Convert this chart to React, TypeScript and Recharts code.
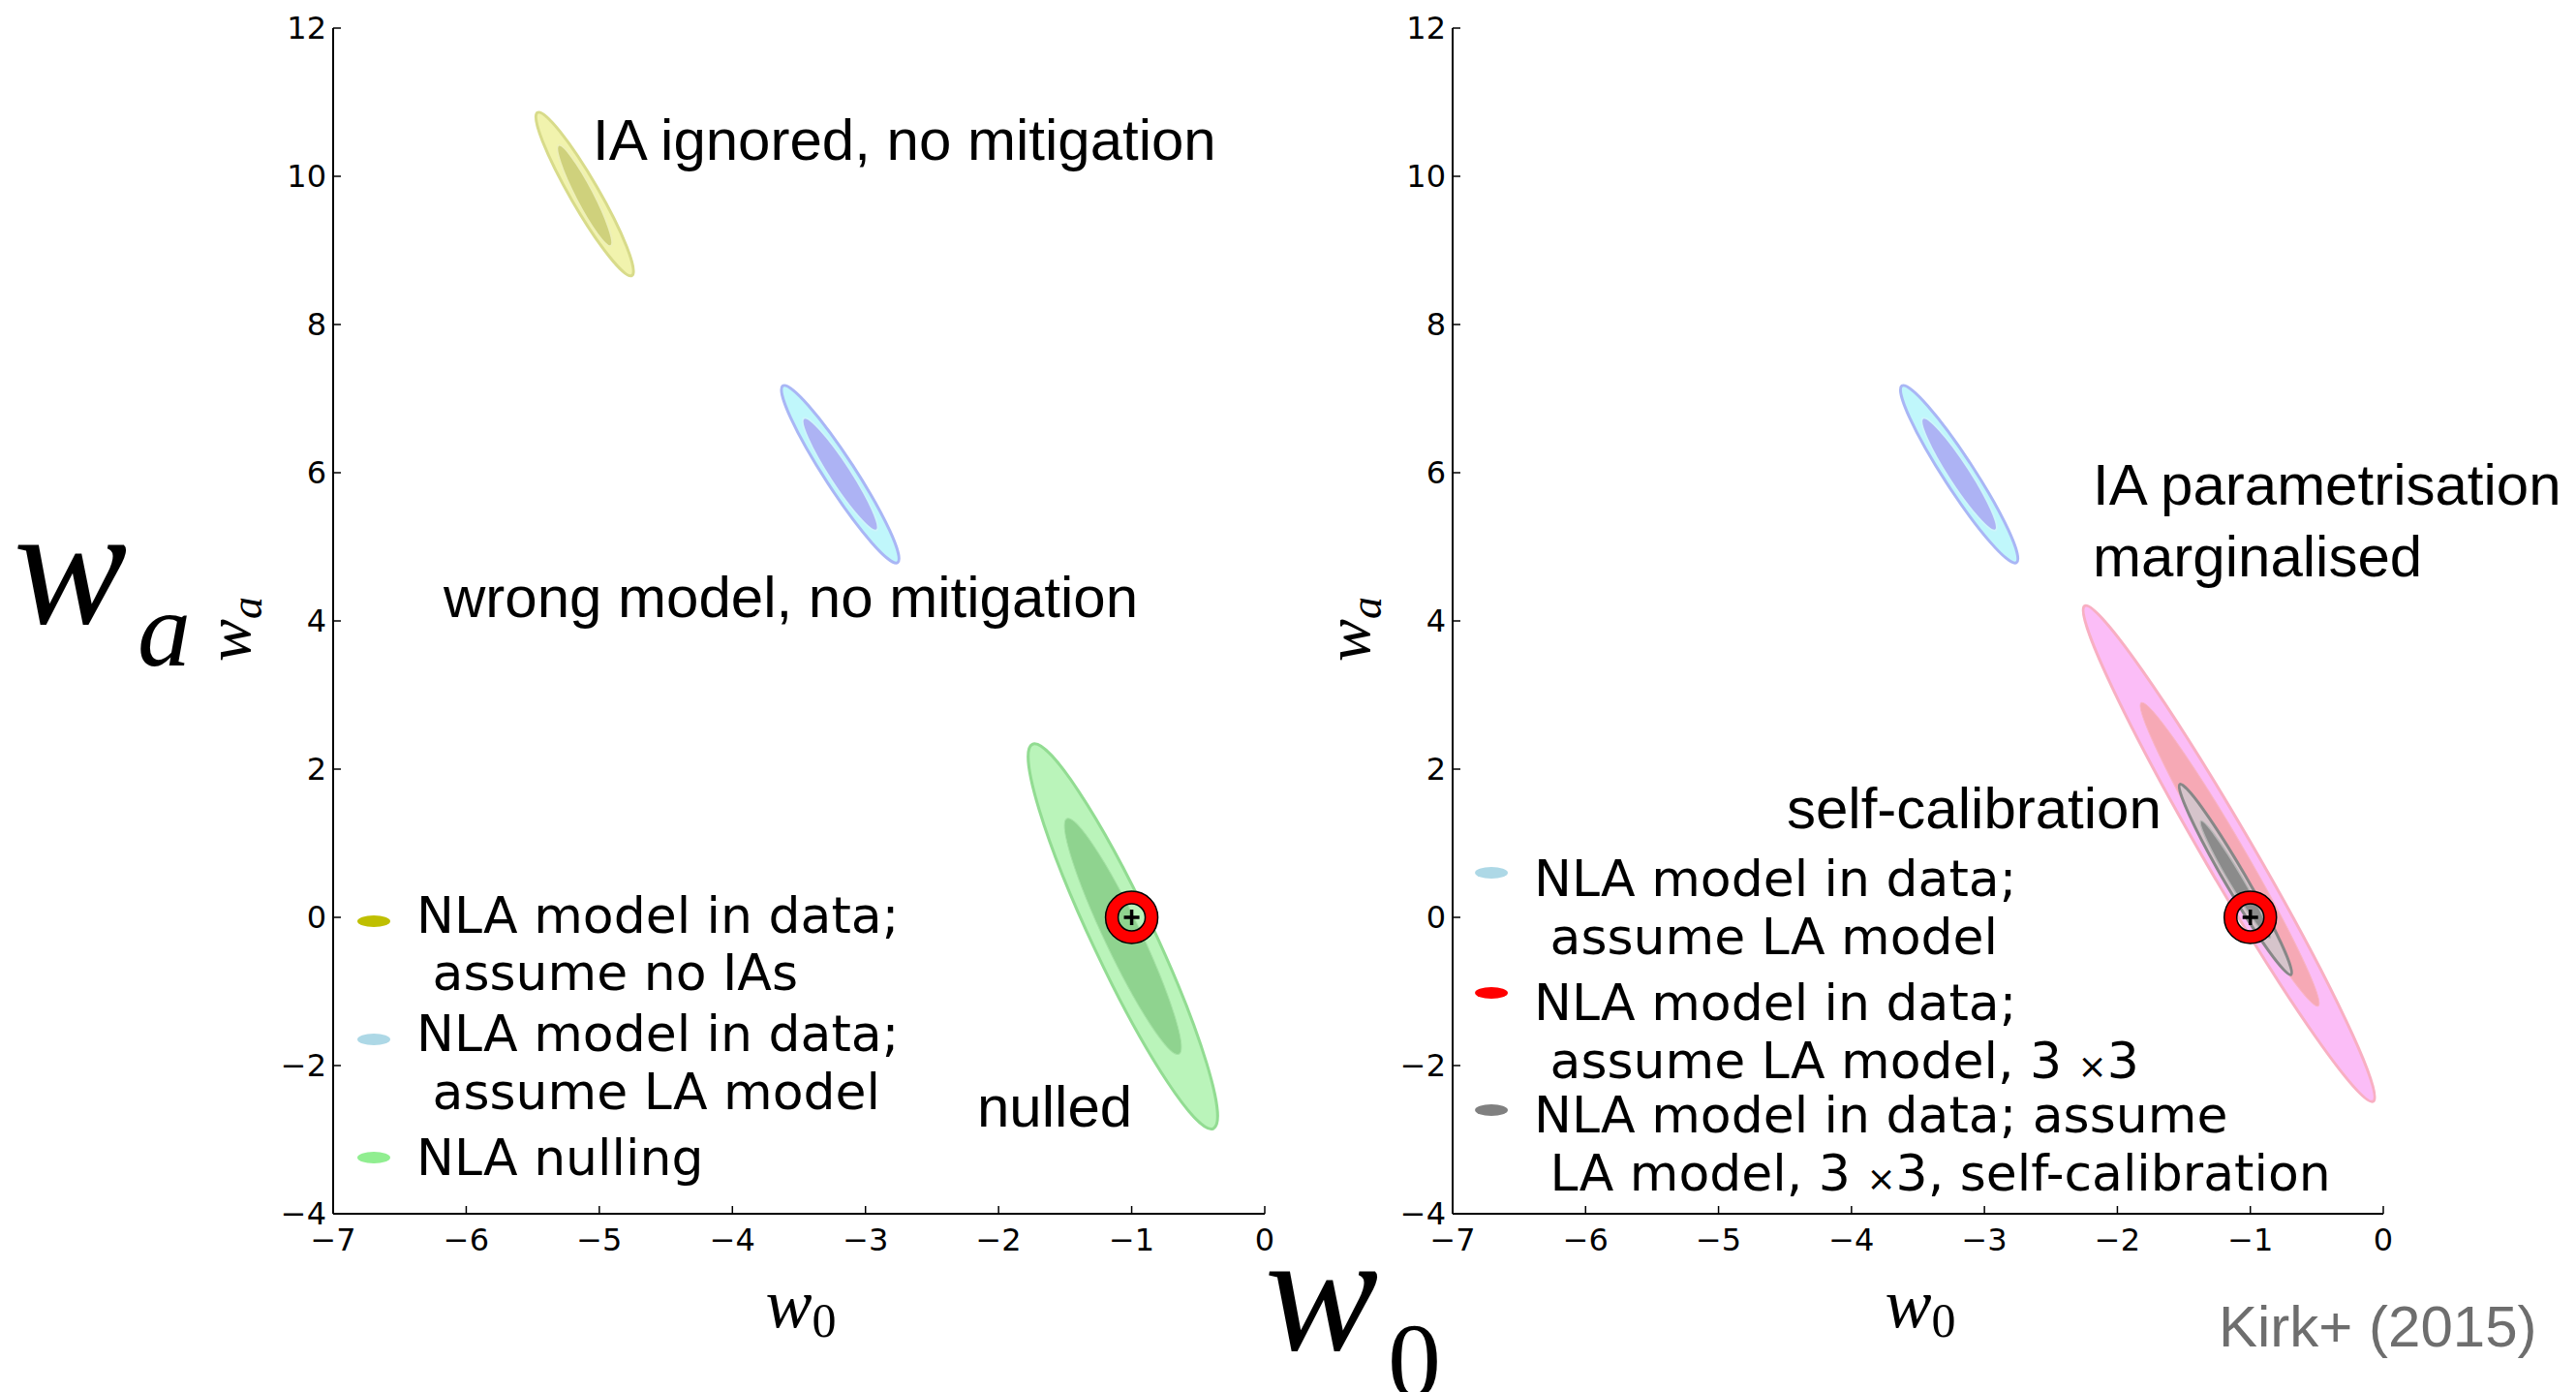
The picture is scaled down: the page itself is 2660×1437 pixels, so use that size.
import React from 'react'
import { ScatterChart, Scatter, XAxis, YAxis } from 'recharts'

// ---------------------------------------------------------------------------
// Data (w0 on x, wa on y)
// ---------------------------------------------------------------------------

const W0_TICKS = [-7, -6, -5, -4, -3, -2, -1, 0]
const WA_TICKS = [-4, -2, 0, 2, 4, 6, 8, 10, 12]

const FIDUCIAL = [{ w0: -1, wa: 0 }]

/** one confidence contour: centre, end of its major axis, minor/major ratio */
type Contour = {
  id: string
  w0: number
  wa: number
  tipW0: number
  tipWa: number
  ratio: number
}

// left panel: IA ignored, wrong model, nulling (2-sigma then 1-sigma)
const leftContours: Contour[] = [
  { id: 'noIa2', w0: -5.11, wa: 9.76, tipW0: -5.465, tipWa: 10.86, ratio: 0.15 },
  { id: 'noIa1', w0: -5.11, wa: 9.74, tipW0: -5.307, tipWa: 10.42, ratio: 0.16 },
  { id: 'la2', w0: -3.19, wa: 5.98, tipW0: -3.621, tipWa: 7.173, ratio: 0.145 },
  { id: 'la1', w0: -3.19, wa: 5.98, tipW0: -3.464, tipWa: 6.736, ratio: 0.16 },
  { id: 'null2', w0: -1.066, wa: -0.257, tipW0: -1.746, tipWa: 2.336, ratio: 0.145 },
  { id: 'null1', w0: -1.066, wa: -0.257, tipW0: -1.487, tipWa: 1.333, ratio: 0.14 },
]

// right panel: wrong model, 3x3 marginalised, self-calibration
const rightContours: Contour[] = [
  { id: 'la2', w0: -3.19, wa: 5.98, tipW0: -3.621, tipWa: 7.173, ratio: 0.145 },
  { id: 'la1', w0: -3.19, wa: 5.98, tipW0: -3.464, tipWa: 6.736, ratio: 0.16 },
  { id: 'x3_2', w0: -1.161, wa: 0.86, tipW0: -2.246, tipWa: 4.203, ratio: 0.085 },
  { id: 'x3_1', w0: -1.155, wa: 0.85, tipW0: -1.821, tipWa: 2.897, ratio: 0.085 },
  { id: 'sc2', w0: -1.112, wa: 0.511, tipW0: -1.53, tipWa: 1.795, ratio: 0.095 },
  { id: 'sc1', w0: -1.112, wa: 0.511, tipW0: -1.372, tipWa: 1.3, ratio: 0.1 },
]

const leftLegend = [
  { color: '#bfbf00', lines: ['NLA model in data;', ' assume no IAs'] },
  { color: '#add8e6', lines: ['NLA model in data;', ' assume LA model'] },
  { color: '#90ee90', lines: ['NLA nulling'] },
]

const rightLegend = [
  { color: '#add8e6', lines: ['NLA model in data;', ' assume LA model'] },
  { color: '#ff0000', lines: ['NLA model in data;', ' assume LA model, 3 \u00d73'] },
  { color: '#808080', lines: ['NLA model in data; assume', ' LA model, 3 \u00d73, self-calibration'] },
]

// ---------------------------------------------------------------------------
// Styles
// ---------------------------------------------------------------------------

const CONTOUR_STYLE: Record<string, { fill: string; stroke: string; sw: number }> = {
  noIa2: { fill: '#f1f3ad', stroke: '#d8db8a', sw: 3 },
  noIa1: { fill: '#cfd17c', stroke: '#eef0b8', sw: 2 },
  la2: { fill: '#c0f7fb', stroke: '#a9b6f5', sw: 3 },
  la1: { fill: '#adb3f4', stroke: '#cdf5fb', sw: 2 },
  null2: { fill: '#baf4ba', stroke: '#92dc92', sw: 3 },
  null1: { fill: '#8fd38f', stroke: '#a5e2a5', sw: 1 },
  x3_2: { fill: '#fbbdf7', stroke: '#f8afc2', sw: 3 },
  x3_1: { fill: '#f6a9b5', stroke: '#f9b3c5', sw: 1 },
  sc2: { fill: '#d6c4cb', stroke: '#878787', sw: 3 },
  sc1: { fill: '#8b8b8b', stroke: '#b5b5b5', sw: 1.5 },
}

const TICK_FONT = '"DejaVu Sans", sans-serif'
const TEXT_FONT = '"Liberation Sans", Arial, sans-serif'
const SERIF = '"Liberation Serif", "Times New Roman", serif'

const CHART_W = 1330
const CHART_H = 1437

const fmt = (v: number) => (v < 0 ? `\u2212${-v}` : `${v}`)

// ---------------------------------------------------------------------------
// Marks
// ---------------------------------------------------------------------------

/** draws the contour as an ellipse from the two scaled points (centre, tip) */
function ellipseLine(c: Contour) {
  const st = CONTOUR_STYLE[c.id]
  return (props: any) => {
    const pts = props.points
    if (!pts || pts.length < 2) return <g />
    const [p0, p1] = pts
    const dx = p1.x - p0.x
    const dy = p1.y - p0.y
    const a = Math.hypot(dx, dy)
    const deg = (Math.atan2(dy, dx) * 180) / Math.PI
    return (
      <ellipse
        cx={p0.x}
        cy={p0.y}
        rx={a}
        ry={a * c.ratio}
        transform={`rotate(${deg} ${p0.x} ${p0.y})`}
        fill={st.fill}
        stroke={st.stroke}
        strokeWidth={st.sw}
      />
    )
  }
}

const NoDot = () => <g />

function FiducialMark(p: any) {
  const { cx, cy } = p
  if (cx == null || cy == null) return <g />
  const R = 27
  const r = 14
  const ring =
    `M ${cx - R} ${cy} a ${R} ${R} 0 1 0 ${2 * R} 0 a ${R} ${R} 0 1 0 ${-2 * R} 0 Z ` +
    `M ${cx - r} ${cy} a ${r} ${r} 0 1 0 ${2 * r} 0 a ${r} ${r} 0 1 0 ${-2 * r} 0 Z`
  return (
    <g>
      <path d={ring} fill="#ff0000" fillRule="evenodd" stroke="#000" strokeWidth={1.5} />
      <line x1={cx - 8} y1={cy} x2={cx + 8} y2={cy} stroke="#000" strokeWidth={3.5} />
      <line x1={cx} y1={cy - 8} x2={cx} y2={cy + 8} stroke="#000" strokeWidth={3.5} />
    </g>
  )
}

function Panel({ contours, marginLeft, marginRight }: { contours: Contour[]; marginLeft: number; marginRight: number }) {
  const axisLine = { stroke: '#000', strokeWidth: 2 }
  const tickLine = { stroke: '#000', strokeWidth: 1.5 }
  const tickStyle = { fontSize: 32, fontFamily: TICK_FONT, fill: '#000' }
  return (
    <ScatterChart
      width={CHART_W}
      height={CHART_H}
      margin={{ top: 29, right: marginRight, bottom: 124, left: marginLeft }}
    >
      <XAxis
        xAxisId="b"
        type="number"
        dataKey="w0"
        domain={[-7, 0]}
        ticks={W0_TICKS}
        allowDataOverflow
        height={60}
        tickSize={-8}
        tickMargin={23}
        tickFormatter={fmt}
        tick={tickStyle}
        axisLine={axisLine}
        tickLine={tickLine}
      />
      <XAxis
        xAxisId="t"
        orientation="top"
        type="number"
        dataKey="w0"
        domain={[-7, 0]}
        ticks={W0_TICKS}
        allowDataOverflow
        height={0}
        mirror
        tick={false}
        tickSize={8}
        axisLine={axisLine}
        tickLine={tickLine}
      />
      <YAxis
        yAxisId="l"
        type="number"
        dataKey="wa"
        domain={[-4, 12]}
        ticks={WA_TICKS}
        allowDataOverflow
        width={60}
        tickSize={-8}
        tickMargin={15}
        tickFormatter={fmt}
        tick={tickStyle}
        axisLine={axisLine}
        tickLine={tickLine}
      />
      <YAxis
        yAxisId="r"
        orientation="right"
        type="number"
        dataKey="wa"
        domain={[-4, 12]}
        ticks={WA_TICKS}
        allowDataOverflow
        width={0}
        mirror
        tick={false}
        tickSize={8}
        axisLine={axisLine}
        tickLine={tickLine}
      />
      <Scatter xAxisId="t" yAxisId="r" data={FIDUCIAL} shape={NoDot} isAnimationActive={false} />
      {contours.map((c) => (
        <Scatter
          key={c.id}
          xAxisId="b"
          yAxisId="l"
          data={[
            { w0: c.w0, wa: c.wa },
            { w0: c.tipW0, wa: c.tipWa },
          ]}
          line={ellipseLine(c)}
          shape={NoDot}
          isAnimationActive={false}
        />
      ))}
      <Scatter xAxisId="b" yAxisId="l" data={FIDUCIAL} shape={FiducialMark} isAnimationActive={false} />
    </ScatterChart>
  )
}

// ---------------------------------------------------------------------------
// Legend / annotation overlay
// ---------------------------------------------------------------------------

function legendLine(text: string) {
  // mathtext-style small times sign
  const parts = text.split('\u00d7')
  if (parts.length === 1) return text
  return parts.map((p, i) => (
    <React.Fragment key={i}>
      {i > 0 && <tspan fontSize={36}>{'\u00d7'}</tspan>}
      {p}
    </React.Fragment>
  ))
}

function LegendBlock({
  items,
  markerX,
  textX,
  markerY,
  baselines,
}: {
  items: typeof leftLegend
  markerX: number
  textX: number
  markerY: number[]
  baselines: number[][]
}) {
  return (
    <g fontFamily={TICK_FONT} fontSize={52} fill="#000">
      {items.map((it, i) => (
        <g key={i}>
          <ellipse cx={markerX} cy={markerY[i]} rx={17} ry={6} fill={it.color} />
          {it.lines.map((ln, j) => (
            <text key={j} x={textX} y={baselines[i][j]} xmlSpace="preserve" style={{ whiteSpace: 'pre' }}>
              {legendLine(ln)}
            </text>
          ))}
        </g>
      ))}
    </g>
  )
}

export default function App() {
  return (
    <div
      style={{
        position: 'absolute',
        left: 0,
        top: 0,
        width: 2660,
        height: 1437,
        background: '#fff',
        overflow: 'hidden',
      }}
    >
      <div style={{ position: 'absolute', left: 0, top: 0 }}>
        <Panel contours={leftContours} marginLeft={284} marginRight={24} />
      </div>
      <div style={{ position: 'absolute', left: 1330, top: 0 }}>
        <Panel contours={rightContours} marginLeft={110} marginRight={199} />
      </div>
      <svg
        width={2660}
        height={1437}
        style={{ position: 'absolute', left: 0, top: 0, pointerEvents: 'none' }}
      >
        {/* legends */}
        <LegendBlock
          items={leftLegend}
          markerX={386}
          textX={430}
          markerY={[951, 1073, 1195]}
          baselines={[[963, 1022], [1085, 1145], [1213]]}
        />
        <LegendBlock
          items={rightLegend}
          markerX={1540}
          textX={1584}
          markerY={[901, 1025, 1146]}
          baselines={[[925, 985], [1053, 1113], [1169, 1229]]}
        />

        {/* annotations */}
        <g fontFamily={TEXT_FONT} fontSize={60} fill="#000">
          <text x={612} y={165}>IA ignored, no mitigation</text>
          <text x={458} y={637}>wrong model, no mitigation</text>
          <text x={1009} y={1163}>nulled</text>
          <text x={2161} y={521}>IA parametrisation</text>
          <text x={2161} y={595}>marginalised</text>
          <text x={1845} y={855}>self-calibration</text>
        </g>
        <text x={2291} y={1390} fontFamily={TEXT_FONT} fontSize={60} fill="#6e6e6e">
          Kirk+ (2015)
        </text>

        {/* per-panel axis labels */}
        {[0, 1156].map((off) => (
          <g key={off} fontFamily={SERIF} fontStyle="italic" fill="#000">
            <text transform={`translate(${258 + off} 683) rotate(-90)`} fontSize={66}>
              w<tspan fontSize={46} dy={12}>a</tspan>
            </text>
            <text x={827 + off} y={1370} fontSize={72} textAnchor="middle">
              w<tspan fontSize={50} dy={10} fontStyle="normal">0</tspan>
            </text>
          </g>
        ))}

        {/* big slide labels */}
        <g fontFamily={SERIF} fill="#000">
          <text x={14} y={643} fontSize={176} fontStyle="italic">w</text>
          <text x={142} y={687} fontSize={110} fontStyle="italic">a</text>
          <text x={1306} y={1393} fontSize={176} fontStyle="italic">w</text>
          <text x={1433} y={1442} fontSize={110}>0</text>
        </g>
      </svg>
    </div>
  )
}
